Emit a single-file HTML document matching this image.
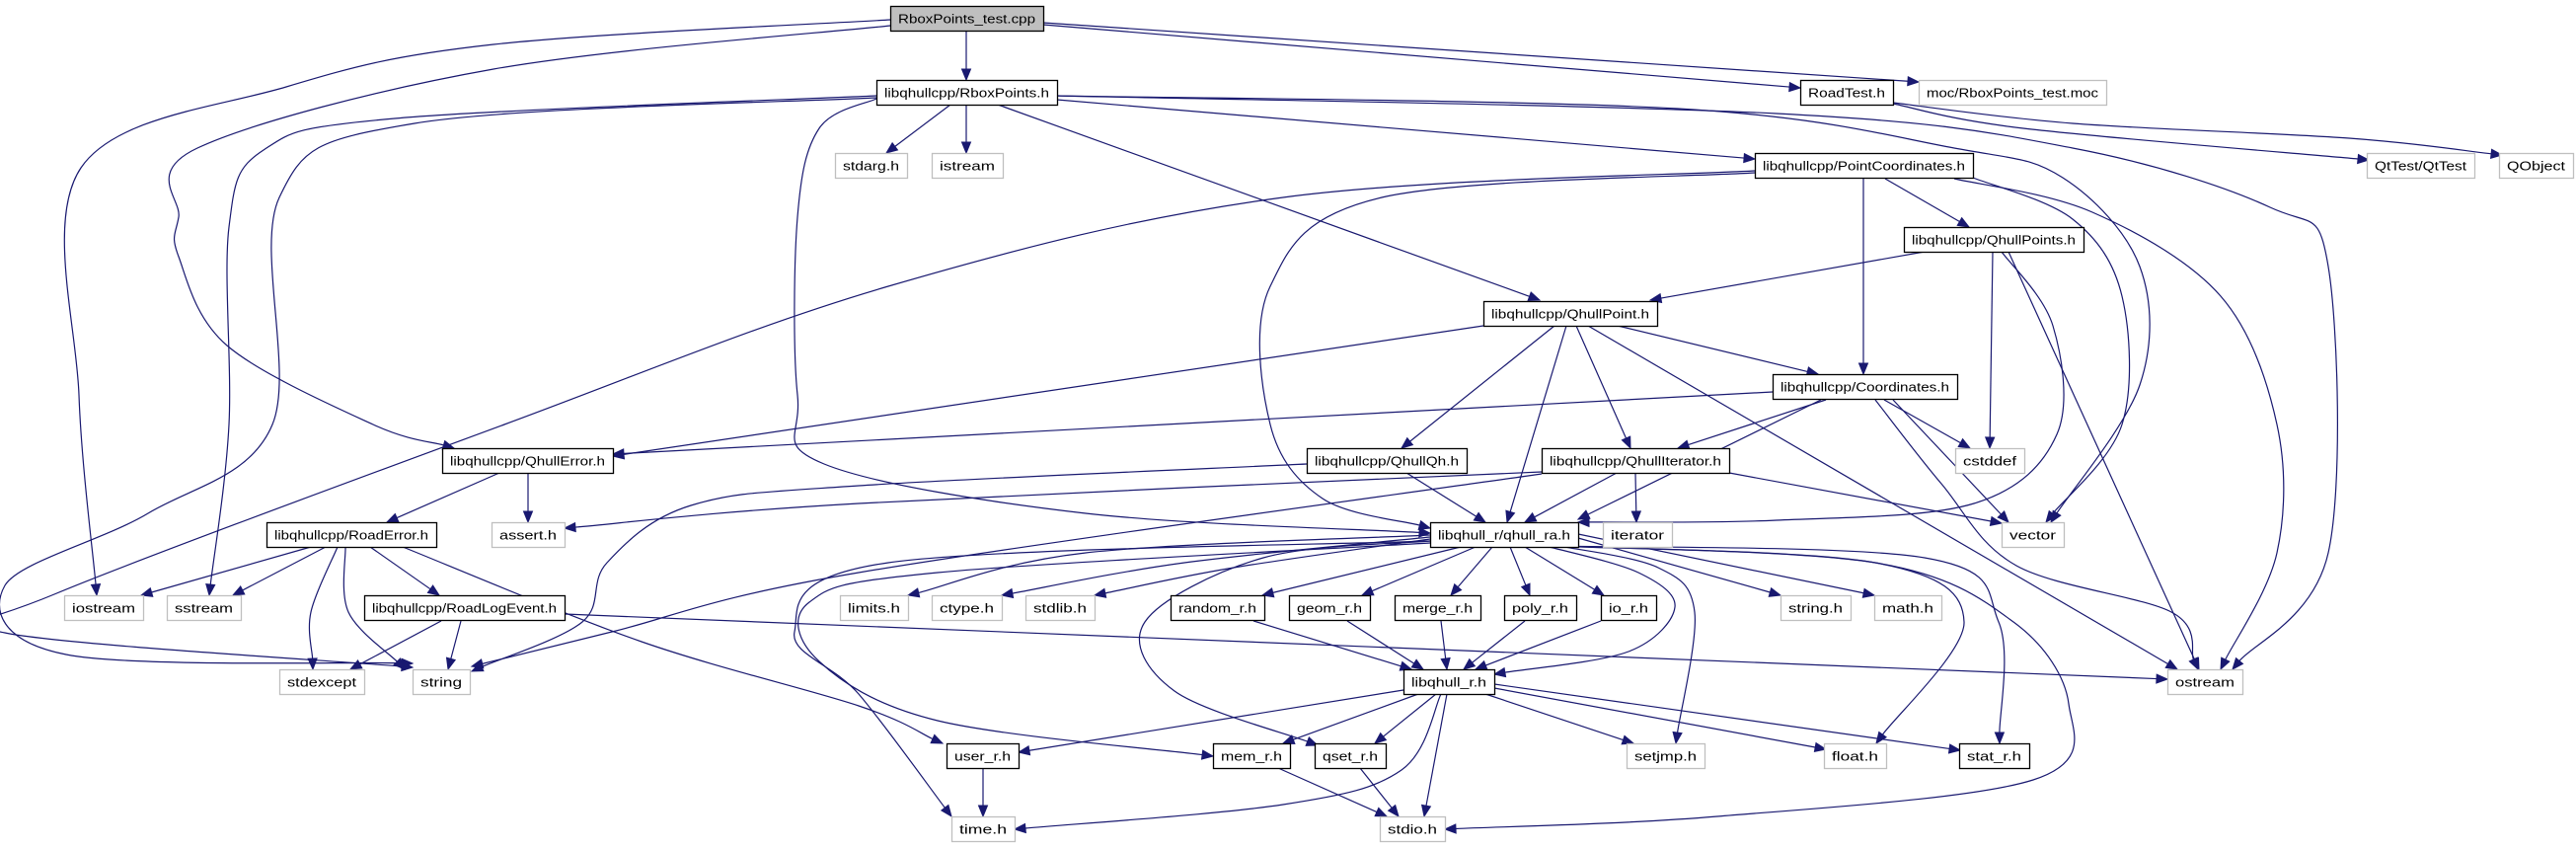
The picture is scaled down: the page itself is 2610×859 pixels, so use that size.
<!DOCTYPE html>
<html><head><meta charset="utf-8"><style>
html,body{margin:0;padding:0;background:#fff;width:2610px;height:859px;overflow:hidden}
svg{display:block}
text{font-family:"Liberation Sans","DejaVu Sans",sans-serif;font-size:13px;fill:#000}
</style></head><body>
<svg id="g" width="2610" height="859" viewBox="0 0 2610 859" xmlns="http://www.w3.org/2000/svg"></svg>
<script>
const R=[6,81,155,230,305,379,454,529,603,678,753,827];
const N={
tc:[902,1057,0,'RboxPoints_test.cpp',2],
rp:[888,1071,1,'libqhullcpp/RboxPoints.h',1],
rt:[1824,1918,1,'RoadTest.h',1],
moc:[1944,2134,1,'moc/RboxPoints_test.moc',0],
stdarg:[846,919,2,'stdarg.h',0],
istream:[944,1016,2,'istream',0],
pc:[1778,1999,2,'libqhullcpp/PointCoordinates.h',1],
qt:[2398,2507,2,'QtTest/QtTest',0],
qo:[2532,2607,2,'QObject',0],
qps:[1929,2111,3,'libqhullcpp/QhullPoints.h',1],
qp:[1503,1679,4,'libqhullcpp/QhullPoint.h',1],
co:[1796,1983,5,'libqhullcpp/Coordinates.h',1],
qe:[448,621,6,'libqhullcpp/QhullError.h',1],
qq:[1324,1486,6,'libqhullcpp/QhullQh.h',1],
qi:[1562,1752,6,'libqhullcpp/QhullIterator.h',1],
cstddef:[1981,2051,6,'cstddef',0],
re:[270,442,7,'libqhullcpp/RoadError.h',1],
assert:[498,572,7,'assert.h',0],
ra:[1449,1599,7,'libqhull_r/qhull_ra.h',1],
iter:[1624,1694,7,'iterator',0],
vector:[2028,2091,7,'vector',0],
iostream:[65,145,8,'iostream',0],
sstream:[169,244,8,'sstream',0],
rl:[369,572,8,'libqhullcpp/RoadLogEvent.h',1],
limits:[851,920,8,'limits.h',0],
ctype:[944,1015,8,'ctype.h',0],
stdlib:[1039,1109,8,'stdlib.h',0],
random:[1186,1281,8,'random_r.h',1],
geom:[1306,1388,8,'geom_r.h',1],
merge:[1413,1500,8,'merge_r.h',1],
poly:[1524,1597,8,'poly_r.h',1],
io:[1622,1678,8,'io_r.h',1],
stringh:[1804,1875,8,'string.h',0],
math:[1899,1967,8,'math.h',0],
stdexcept:[283,369,9,'stdexcept',0],
string:[418,476,9,'string',0],
lib:[1422,1514,9,'libqhull_r.h',1],
ostream:[2196,2272,9,'ostream',0],
user:[959,1032,10,'user_r.h',1],
mem:[1229,1307,10,'mem_r.h',1],
qset:[1332,1404,10,'qset_r.h',1],
setjmp:[1648,1727,10,'setjmp.h',0],
float:[1848,1911,10,'float.h',0],
stat:[1985,2056,10,'stat_r.h',1],
time:[964,1028,11,'time.h',0],
stdio:[1398,1464,11,'stdio.h',0]
};
const E=[
[[979,31],[979,81]],
[[1057,25],[1824,89]],
[[1057,23],[1944,83]],
[[902,20],[500,45],[290,88],[82,170],[80,400],[98,603]],
[[902,26],[500,70],[200,150],[181,220],[181,260],[230,350],[378,430],[460,454]],
[[1918,105],[2050,130],[2400,162]],
[[1918,104],[2100,125],[2380,140],[2535,157]],
[[963,106],[898,155]],
[[979,106],[979,155]],
[[1071,101],[1778,161]],
[[1011,106],[1560,304]],
[[888,97],[400,120],[267,152],[232,230],[232,430],[212,603]],
[[888,99],[420,125],[283,200],[276,430],[150,520],[5,593],[67,663],[418,672]],
[[888,100],[830,130],[808,220],[808,400],[835,470],[1100,520],[1449,540]],
[[1071,97],[1700,110],[1980,150],[2090,180],[2168,270],[2168,390],[2078,529]],
[[1071,97],[1800,115],[2100,150],[2300,210],[2359,270],[2359,560],[2262,678]],
[[1910,181],[1995,230]],
[[1888,181],[1888,379]],
[[1778,175],[1400,200],[1287,290],[1287,430],[1340,505],[1449,535]],
[[1778,173],[1300,200],[900,290],[511,430],[55,602],[5,641],[418,676]],
[[1999,180],[2100,222],[2150,300],[2150,430],[2073,529]],
[[1980,181],[2120,215],[2250,300],[2307,430],[2307,560],[2250,678]],
[[1950,255],[1672,304]],
[[2019,255],[2016,454]],
[[2028,255],[2080,330],[2084,440],[2000,510],[1800,527],[1599,529]],
[[2035,255],[2228,678]],
[[1503,330],[621,462]],
[[1575,330],[1420,454]],
[[1587,330],[1527,529]],
[[1597,330],[1652,454]],
[[1639,330],[1842,379]],
[[1609,330],[2206,678]],
[[1796,397],[621,460]],
[[1850,405],[1700,454]],
[[1845,405],[1599,526]],
[[1909,405],[1996,454]],
[[1918,405],[2035,529]],
[[1900,405],[1967,490],[2043,573],[2200,620],[2227,678]],
[[506,479],[392,529]],
[[535,479],[535,529]],
[[1425,479],[1505,529]],
[[1324,470],[870,492],[700,512],[615,570],[590,630],[478,680]],
[[1562,478],[870,510],[572,535]],
[[1562,480],[870,580],[620,640],[478,675]],
[[1638,479],[1545,529]],
[[1657,479],[1658,529]],
[[1752,479],[2028,530]],
[[315,554],[143,603]],
[[330,554],[236,603]],
[[342,554],[315,620],[317,678]],
[[350,554],[353,620],[410,678]],
[[375,554],[445,603]],
[[408,554],[650,650],[870,715],[955,753]],
[[447,629],[355,678]],
[[467,629],[454,678]],
[[572,622],[2196,688]],
[[1449,542],[1100,560],[920,603]],
[[1449,544],[1200,570],[1015,603]],
[[1449,546],[1250,575],[1109,603]],
[[1449,548],[900,570],[805,640],[870,703],[964,827]],
[[1449,550],[950,580],[820,610],[830,670],[950,730],[1229,766]],
[[1449,548],[1280,565],[1160,630],[1190,700],[1335,755]],
[[1480,554],[1279,603]],
[[1495,554],[1380,603]],
[[1512,554],[1470,603]],
[[1530,554],[1550,603]],
[[1545,554],[1625,603]],
[[1599,545],[1804,603]],
[[1599,541],[1899,603]],
[[1570,554],[1660,580],[1697,615],[1650,660],[1514,683]],
[[1580,553],[1680,575],[1717,620],[1698,753]],
[[1575,553],[1900,570],[1990,630],[1901,753]],
[[1575,553],[1950,565],[2025,630],[2026,753]],
[[1576,553],[1900,570],[2040,630],[2096,713],[2060,790],[1740,827],[1464,840]],
[[1270,629],[1430,678]],
[[1365,629],[1442,678]],
[[1460,629],[1466,678]],
[[1545,629],[1483,678]],
[[1622,629],[1495,678]],
[[1422,699],[1032,762]],
[[1437,703],[1300,753]],
[[1455,703],[1393,753]],
[[1466,703],[1443,827]],
[[1460,703],[1420,780],[1300,815],[1028,840]],
[[1505,703],[1655,753]],
[[1514,697],[1850,759]],
[[1514,693],[1986,760]],
[[996,778],[996,827]],
[[1295,778],[1405,827]],
[[1378,778],[1417,827]]
];
const C='#191970';let s='';
function path(p){
 if(p.length==2)return `M${p[0][0]},${p[0][1]}L${p[1][0]},${p[1][1]}`;
 let d=`M${p[0][0]},${p[0][1]}`;
 for(let i=0;i<p.length-1;i++){
  const p0=p[i-1]||p[i],p1=p[i],p2=p[i+1],p3=p[i+2]||p2;
  const c1=[p1[0]+(p2[0]-p0[0])/6,p1[1]+(p2[1]-p0[1])/6];
  const c2=[p2[0]-(p3[0]-p1[0])/6,p2[1]-(p3[1]-p1[1])/6];
  d+=`C${c1[0].toFixed(1)},${c1[1].toFixed(1)} ${c2[0].toFixed(1)},${c2[1].toFixed(1)} ${p2[0]},${p2[1]}`;
 }
 return d;
}
for(const e of E){
 const p=e.map(q=>q.slice());const n=p.length;
 const a=p[n-1],b=p[n-2];
 let dx=a[0]-b[0],dy=a[1]-b[1],L=Math.hypot(dx,dy);dx/=L;dy/=L;
 const al=11,aw=4.5;
 const base=[a[0]-dx*al,a[1]-dy*al];
 p[n-1]=base;
 s+=`<path d="${path(p)}" fill="none" stroke="${C}" stroke-width="1.2"/>`;
 s+=`<polygon points="${a[0]},${a[1]} ${(base[0]-dy*aw).toFixed(1)},${(base[1]+dx*aw).toFixed(1)} ${(base[0]+dy*aw).toFixed(1)},${(base[1]-dx*aw).toFixed(1)}" fill="${C}" stroke="${C}"/>`;
}
for(const k in N){
 const [x1,x2,r,t,st]=N[k];const y=R[r],w=x2-x1;
 const fill=st==2?'#bfbfbf':'#fff',str=st?'#000':'#bfbfbf';
 s+=`<rect x="${x1+.5}" y="${y+.5}" width="${w}" height="25" fill="${fill}" stroke="${str}" stroke-width="${st?1.3:1.3}"/>`;
 s+=`<text x="${x1+w/2}" y="${y+17.5}" text-anchor="middle" textLength="${w-16}" lengthAdjust="spacingAndGlyphs">${t}</text>`;
}
document.getElementById('g').innerHTML=s;
</script>
</body></html>
